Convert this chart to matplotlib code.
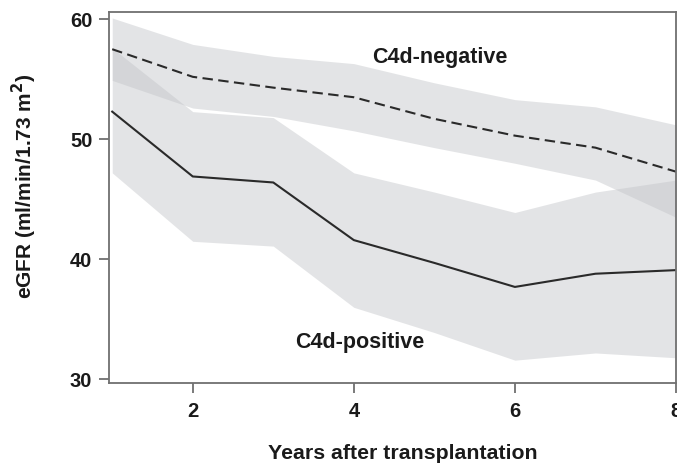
import matplotlib.pyplot as plt

plt.rcParams['font.family'] = ['Liberation Sans', 'DejaVu Sans']
plt.rcParams['font.weight'] = 'bold'

years = [1, 2, 3, 4, 5, 6, 7, 8]

# C4d-negative (dashed)
neg_mean = [57.5, 55.2, 54.3, 53.5, 51.7, 50.3, 49.3, 47.3]
neg_upper = [60.1, 57.9, 56.9, 56.3, 54.7, 53.3, 52.7, 51.2]
neg_lower = [54.9, 52.6, 51.9, 50.7, 49.3, 48.0, 46.6, 43.5]

# C4d-positive (solid)
pos_mean = [52.3, 46.9, 46.4, 41.6, 39.7, 37.7, 38.8, 39.1]
pos_upper = [57.6, 52.3, 51.8, 47.2, 45.6, 43.9, 45.6, 46.6]
pos_lower = [47.2, 41.5, 41.1, 36.0, 33.9, 31.6, 32.2, 31.8]

fig = plt.figure(figsize=(6.77, 4.72), dpi=100)
ax = fig.add_axes([0.161, 0.1886, 0.8375, 0.786])

band = '#c2c4c8'
ax.fill_between(years, neg_lower, neg_upper, color=band, alpha=0.45, lw=0)
ax.fill_between(years, pos_lower, pos_upper, color=band, alpha=0.45, lw=0)
ax.plot(years, neg_mean, color='#2a2a2a', lw=1.5, ls=(0, (5, 2.6)))
ax.plot(years, pos_mean, color='#2a2a2a', lw=1.5)

ax.text(5.07, 56.8, 'C4d-negative', fontsize=15.5, fontweight='bold', ha='center', va='center', color='#1a1a1a')
ax.text(4.07, 33.1, 'C4d-positive', fontsize=15.5, fontweight='bold', ha='center', va='center', color='#1a1a1a')

ax.set_xlim(0.96, 8.0)
ax.set_ylim(29.7, 60.6)
ax.set_xticks([2, 4, 6, 8])
ax.set_yticks([30, 40, 50, 60])

for s in ax.spines.values():
    s.set_color('#707070')
    s.set_linewidth(1.3)
ax.tick_params(colors='#707070', labelcolor='#1a1a1a', length=7, width=1.3, labelsize=14.5, pad=5)
ax.tick_params(axis='x', pad=7)
for lab in ax.get_xticklabels() + ax.get_yticklabels():
    lab.set_fontweight('bold')

ax.set_xlabel('Years after transplantation', fontsize=15.3, fontweight='bold', labelpad=16, color='#1a1a1a')
ax.set_ylabel('eGFR (ml/min/1.73 m$^\\mathbf{2}$)', fontsize=15, fontweight='bold', labelpad=22, color='#1a1a1a')
ax.xaxis.label.set_x(0.5176)
ax.yaxis.label.set_y(0.531)

fig.savefig('out.png', dpi=100)
